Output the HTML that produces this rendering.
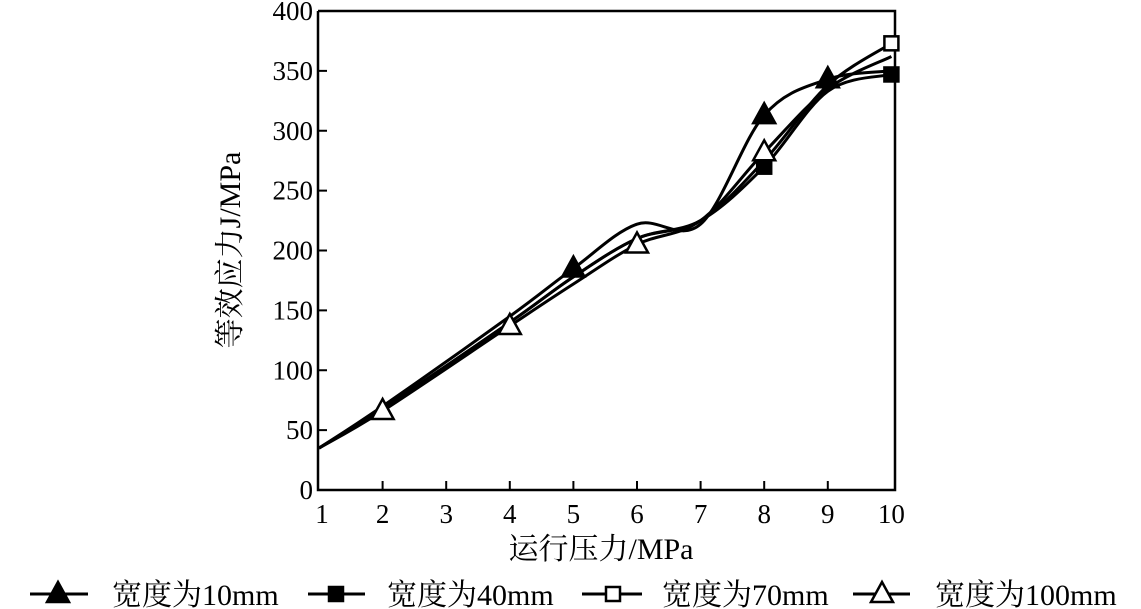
<!DOCTYPE html>
<html><head><meta charset="utf-8"><style>
html,body{margin:0;padding:0;background:#fff;width:1141px;height:609px;overflow:hidden}
svg text{font-family:"Liberation Serif","Noto Serif CJK SC",serif;fill:#000}
</style></head><body>
<svg id="s" width="1141" height="609" xmlns="http://www.w3.org/2000/svg">
<g stroke="#000" stroke-width="3" fill="none">
<polyline points="318,11 318,490 895,490 895,11 318,11" stroke-width="2.5"/>
</g>
<g id="ticks" stroke="#000" stroke-width="2"></g>
<g id="lbl" font-size="27"></g>
<g id="series"></g>
<text x="240" y="250" font-size="30" text-anchor="middle" transform="rotate(-90 240 250)">等效应力J/MPa</text>
<text x="601" y="559" font-size="30" text-anchor="middle">运行压力/MPa</text>
<g id="leg" font-size="30"></g>
</svg>
<script>
const NS="http://www.w3.org/2000/svg";
function el(t,a,p){const e=document.createElementNS(NS,t);for(const k in a)e.setAttribute(k,a[k]);p.appendChild(e);return e;}
const X=v=>319+(v-1)*63.6, Y=v=>490-v*1.1975;
const tk=document.getElementById('ticks'),lb=document.getElementById('lbl');
for(let v=0;v<=400;v+=50){const y=Y(v);if(v>0&&v<400)el('line',{x1:318,y1:y,x2:327,y2:y},tk);const t=el('text',{x:313,y:y+9,'text-anchor':'end'},lb);t.textContent=v;}
for(let v=1;v<=10;v++){const x=X(v);if(v>1&&v<10)el('line',{x1:x,y1:490,x2:x,y2:481},tk);const t=el('text',{x:v==1?322:x,y:523,'text-anchor':'middle'},lb);t.textContent=v;}
const S=[
 {d:[[1,35],[2,70],[4,145],[5,185],[6,222],[7,222],[8,313],[9,343],[10,350]],m:'tf',mk:[5,8,9]},
 {d:[[1,35],[2,68],[4,140],[5,178],[6,210],[7,225],[8,270],[9,333],[10,347]],m:'sf',mk:[8,10]},
 {d:[[1,35],[2,68],[4,140],[5,178],[6,210],[7,225],[8,275],[9,338],[10,373]],m:'so',mk:[10]},
 {d:[[1,35],[2,66],[4,137],[5,172],[6,205],[7,225],[8,282],[9,335],[10,362]],m:'to',mk:[2,4,6,8]}
];
const g=document.getElementById('series');
function path(pts){const p=pts.map(a=>[X(a[0]),Y(a[1])]);let d=`M${p[0][0]},${p[0][1]}`;
for(let i=0;i<p.length-1;i++){const p0=p[i-1]||p[i],p1=p[i],p2=p[i+1],p3=p[i+2]||p2;
d+=` C${p1[0]+(p2[0]-p0[0])/6},${p1[1]+(p2[1]-p0[1])/6} ${p2[0]-(p3[0]-p1[0])/6},${p2[1]-(p3[1]-p1[1])/6} ${p2[0]},${p2[1]}`;}return d;}
function marker(t,x,y,p){if(t[0]=='t'){el('polygon',{points:`${x},${y-12} ${x-11},${y+8} ${x+11},${y+8}`,fill:t[1]=='f'?'#000':'#fff',stroke:'#000','stroke-width':2.5},p);}
else{el('rect',{x:x-7,y:y-7,width:14,height:14,fill:t[1]=='f'?'#000':'#fff',stroke:'#000','stroke-width':2.5},p);}}
S.forEach(s=>el('path',{d:path(s.d),fill:'none',stroke:'#000','stroke-width':3},g));
S.forEach(s=>s.mk.forEach(v=>{const pt=s.d.find(a=>a[0]==v);marker(s.m,X(v),Y(pt[1]),g);}));
const lg=document.getElementById('leg');
const L=[[30,88,58,'tf','宽度为10mm',112],[308,365,336,'sf','宽度为40mm',387],[582,642,613,'so','宽度为70mm',662],[853,910,882,'to','宽度为100mm',935]];
L.forEach(l=>{el('line',{x1:l[0],y1:594,x2:l[1],y2:594,stroke:'#000','stroke-width':3},lg);marker(l[3],l[2],594,lg);const t=el('text',{x:l[5],y:605},lg);t.textContent=l[4];});
</script>
</body></html>
